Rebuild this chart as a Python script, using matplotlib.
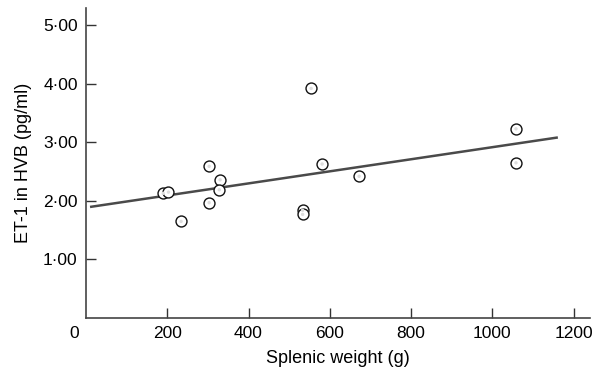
import matplotlib
matplotlib.use('Agg')
import matplotlib.pyplot as plt
import matplotlib.transforms as mtransforms
import numpy as np

# splenic weight (g) vs ET-1 in hepatic venous blood (pg/ml)
weight = [190, 203, 234, 303, 303, 330, 328, 533, 533, 554, 581, 672, 1058, 1058]
et1 = [2.13, 2.15, 1.65, 2.59, 1.97, 2.36, 2.19, 1.84, 1.77, 3.92, 2.63, 2.42, 3.23, 2.65]

# regression line end points
line_x = [13, 1158]
line_y = [1.90, 3.08]

xticks = [0, 200, 400, 600, 800, 1000, 1200]
yticks = [1, 2, 3, 4, 5]
ytick_labels = ['1·00', '2·00', '3·00', '4·00', '5·00']

plt.rcParams['font.family'] = ['Liberation Sans', 'DejaVu Sans']

fig = plt.figure(figsize=(5.95, 3.72), dpi=100)
ax = fig.add_axes([0.1445, 0.145, 0.847, 0.833])

ax.plot(line_x, line_y, color='#4a4a4a', lw=1.8, zorder=2)
ax.scatter(weight, et1, s=62, facecolor='white', edgecolor='#111111', linewidths=1.0, zorder=3)
ax.scatter(weight, et1, s=6, facecolor='#dddddd', edgecolor='none', zorder=4)

ax.set_xlim(0, 1240)
ax.set_ylim(0, 5.29)

ax.set_xticks(xticks)
ax.set_yticks(yticks)
ax.set_yticklabels(ytick_labels)

ax.tick_params(direction='in', length=7, width=1.0, color='#333333', labelsize=12.5, pad=6)
ax.xaxis.get_major_ticks()[0].tick1line.set_visible(False)
# the "0" label sits left of the origin in the original
lab0 = ax.xaxis.get_major_ticks()[0].label1
lab0.set_transform(lab0.get_transform() + mtransforms.ScaledTranslation(-12/100, 0, fig.dpi_scale_trans))

for s in ['top', 'right']:
    ax.spines[s].set_visible(False)
for s in ['left', 'bottom']:
    ax.spines[s].set_color('#444444')
    ax.spines[s].set_linewidth(1.2)

ax.set_xlabel('Splenic weight (g)', fontsize=13, labelpad=6)
ax.set_ylabel('ET-1 in HVB (pg/ml)', fontsize=13, labelpad=8)

fig.savefig('out.png', dpi=100)
